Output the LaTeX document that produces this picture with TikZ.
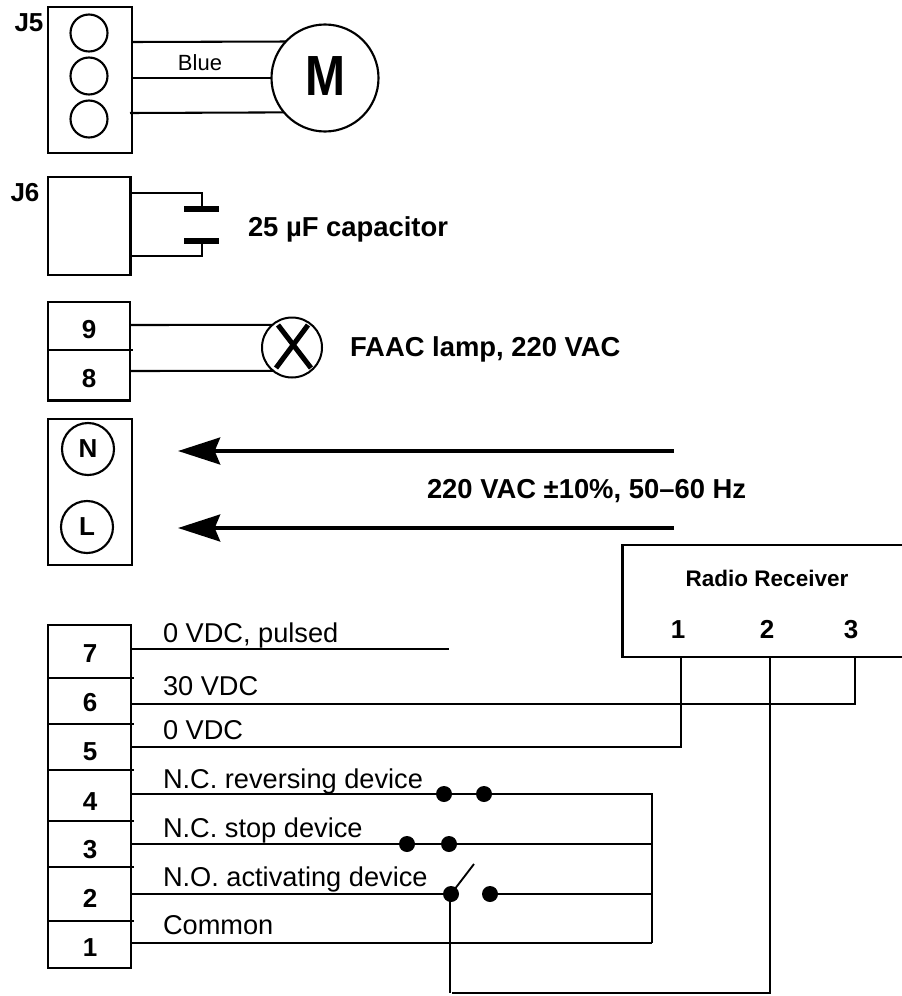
\documentclass[tikz,border=0pt]{standalone}
\usepackage{fontspec}
\setmainfont{Liberation Sans}
\usetikzlibrary{arrows.meta}
\tikzset{
  every node/.style={inner sep=0pt,outer sep=0pt},
  wire/.style={line width=1.55pt,line cap=butt},
  boxline/.style={draw,line width=1.9pt},
  hole/.style={draw,circle,line width=1.6pt,minimum size=37*0.75pt},
  nlhole/.style={draw,circle,line width=1.6pt,minimum size=52*0.75pt,font=\fontsize{19.5}{22}\selectfont\bfseries},
  num/.style={anchor=base,font=\fontsize{19.5}{22}\selectfont\bfseries},
  title/.style={anchor=base west,font=\fontsize{20.55}{24}\selectfont\bfseries},
  lab/.style={anchor=base west,font=\fontsize{20.4}{24}\selectfont},
  contact/.style={circle,fill=black,minimum size=16*0.75pt},
  plate/.style={line width=4.2pt},
  feed/.style={line width=3.4pt,-{Stealth[length=31.5pt,width=20pt,inset=4pt]}}
}
\newcommand{\cell}[6][]{\node[boxline,#1,minimum width={(#4-#2)*0.75pt},minimum height={(#5-#3)*0.75pt}] (#6) at ({(#2+#4)/2},{(#3+#5)/2}) {};}
\begin{document}
\begin{tikzpicture}[x=0.75pt,y=-0.75pt]
\useasboundingbox (0,0) rectangle (902,996);
% J5 and motor
\cell{48}{7}{132}{153}{jfive}
\node[num] (jfivelab) at (29,31.5) {J5};
\node[hole] (h1) at (89,33) {};
\node[hole] (h2) at (89,76) {};
\node[hole] (h3) at (89,119) {};
\node[draw,circle,line width=1.6pt,minimum size=107*0.75pt,font=\fontsize{36}{40}\selectfont\bfseries] (motor) at (325,78) {\raisebox{2.25pt}{\scalebox{1}[1.18]{M}}};
\coordinate (ja) at (132,42);
\coordinate (jb) at (132,78);
\coordinate (jc) at (130,113);
\draw[wire] (ja) -- (motor.137.7);
\draw[wire] (jb) -- (motor.west);
\draw[wire] (jc) -- (motor.220.9);
\node[anchor=base,font=\fontsize{16.5}{20}\selectfont] (blue) at (200,70.7) {Blue};
% J6 and capacitor
\cell{48}{177}{130.5}{275}{jsix}
\node[num] (jsixlab) at (25,201.5) {J6};
\coordinate (ca) at (130.5,193);
\coordinate (cb) at (130.5,256);
\coordinate (pa) at (202,209);
\coordinate (pb) at (202,241);
\draw[wire] (ca) -| (pa);
\draw[wire] (cb) -| (pb);
\draw[plate] (184,209) -- (219,209);
\draw[plate] (184,241) -- (219,241);
\node[title] (captxt) at (248,236.7) {25 µF capacitor};
% 9/8 and lamp
\cell{48}{302}{130}{400.5}{lampblock}
\node[num] (nine) at (89,338) {9};
\node[num] (eight) at (89,387) {8};
\draw[wire] (48,350) -- (133,350);
\node[draw,circle,line width=1.5pt,minimum size=60*0.75pt] (lamp) at (292,347.5) {};
\coordinate (la) at (130,325);
\coordinate (lb) at (130,371);
\draw[wire] (la) -- (lamp.131.4);
\draw[wire] (lb) -- (lamp.231.6);
\draw[line width=3.8pt] (278,325) -- (311,368);
\draw[line width=3.8pt] (308,325) -- (276,368);
\node[title] (lamptxt) at (350,356.7) {FAAC lamp, 220 VAC};
% mains
\cell{48}{419}{132}{565}{mains}
\node[nlhole] (n) at (88,449) {\raisebox{-0.8pt}{N}};
\node[nlhole] (l) at (87,527) {\raisebox{-0.8pt}{L}};
\coordinate (fa) at (674,451);
\coordinate (fat) at (178,451);
\coordinate (fb) at (674,528);
\coordinate (fbt) at (178,528);
\draw[feed] (fa) -- (fat);
\draw[feed] (fb) -- (fbt);
\node[title] (mainstxt) at (427,498) {220 VAC ±10\%, 50–60 Hz};
% radio receiver
\node[minimum width=280*0.75pt,minimum height=112*0.75pt] (rx) at (762.5,601) {};
\draw[line width=1.7pt] (rx.north east) -- (rx.north west) -- (rx.south west) -- (rx.south east);
\node[anchor=base,font=\fontsize{16.9}{20}\selectfont\bfseries] (rxt) at (767,586) {Radio Receiver};
\node[num] (ra) at (678,638.4) {1};
\node[num] (rb) at (767,638.4) {2};
\node[num] (rc) at (851,638.4) {3};
% terminal strip
\cell{48}{625}{131}{968}{strip}
\draw[wire] (48,678) -- (133.5,678);
\draw[wire] (48,724) -- (133.5,724);
\draw[wire] (48,770) -- (133.5,770);
\draw[wire] (48,821) -- (133.5,821);
\draw[wire] (48,867) -- (133.5,867);
\draw[wire] (48,921) -- (133.5,921);
\node[num] (t7) at (90,662.7) {7};
\node[num] (t6) at (90,711) {6};
\node[num] (t5) at (90,760.7) {5};
\node[num] (t4) at (90,810) {4};
\node[num] (t3) at (90,858) {3};
\node[num] (t2) at (90,907) {2};
\node[num] (t1) at (90,956.7) {1};
\node[lab] (l7) at (163,642.7) {0 VDC, pulsed};
\node[lab] (l6) at (163,695) {30 VDC};
\node[lab] (l5) at (163,739) {0 VDC};
\node[lab] (l4) at (163,788) {N.C. reversing device};
\node[lab] (l3) at (163,837) {N.C. stop device};
\node[lab] (l2) at (163,886) {N.O. activating device};
\node[lab] (l1) at (163,934) {Common};
% contacts
\node[contact] (ca1) at (444,794) {};
\node[contact] (ca2) at (484,794) {};
\node[contact] (cb1) at (407,844) {};
\node[contact] (cb2) at (449,844) {};
\node[contact] (cc1) at (451,894) {};
\node[contact] (cc2) at (490,894) {};
\coordinate (arm) at (474,864);
\draw[line width=1.4pt] (cc1.center) -- (arm);
% wires
\coordinate (w7) at (131,649);
\coordinate (w7e) at (449,649);
\coordinate (w6) at (131,704);
\coordinate (w5) at (131,747);
\coordinate (w4) at (131,794);
\coordinate (w3) at (131,844);
\coordinate (w2) at (131,894);
\coordinate (w1) at (131,943);
\coordinate (railtop) at (652,794);
\coordinate (railbot) at (652,943);
\coordinate (rxa) at (681,657);
\coordinate (rxb) at (770,657);
\coordinate (rxc) at (855,657);
\coordinate (bot) at (452,993);
\coordinate (botdrop) at (450,993);
\draw[wire] (w7) -- (w7e);
\draw[wire] (w6) -| (rxc);
\draw[wire] (w5) -| (rxa);
\draw[wire] (w4) -- (ca1);
\draw[wire] (ca1) -- (ca2);
\draw[wire] (ca2) -- (railtop) -- (railbot);
\draw[wire] (w3) -- (cb1);
\draw[wire] (cb1) -- (cb2);
\draw[wire] (cb2) -- (cb2 -| railtop);
\draw[wire] (w2) -- (cc1);
\draw[wire] (cc2) -- (cc2 -| railtop);
\draw[wire] (w1) -- (railbot);
\draw[wire] (cc1.center) ++(-1,0) -- (botdrop);
\draw[wire] (bot) -| (rxb);
\end{tikzpicture}
\end{document}
